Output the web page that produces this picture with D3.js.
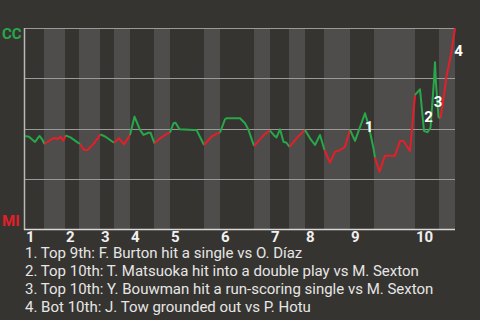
<!DOCTYPE html>
<html>
<head>
<meta charset="utf-8">
<script src="https://cdn.jsdelivr.net/npm/d3@7"></script>
<style>
  body { margin: 0; background: #363430; }
  svg { display: block; font-family: Roboto, "Noto Sans", sans-serif; }
</style>
</head>
<body>
<div id="chart"></div>
<script>
// teams: away on top, home at the bottom
var awayTeam = "CC";
var homeTeam = "MI";

// start of every half inning (play units), top 1st .. bottom 10th, then game end
var halfStarts = [0, 3.8, 8, 10.8, 15, 17.8, 21, 25.8, 29, 35.8, 39, 45.8, 49, 52.8, 56, 59.8, 65, 69.8, 78, 82.8];
var gameEnd = 86;
var inningLabels = ["1", "2", "3", "4", "5", "6", "7", "8", "9", "10"];

// win probability for CC (%) through the game
var playPos = [0, 0.8, 2, 2.9, 3.5, 3.9, 4.8, 5.8, 6.5, 7.1, 7.7, 8.1, 9.1, 10.5, 11, 11.8, 12.5, 13.8, 15.1, 16.1,
    17.8, 18.8, 19.8, 21, 21.9, 23, 23.7, 24.7, 25.1, 25.9, 27, 28.3, 29, 29.7, 30.1, 30.9, 33.7, 34.3, 35.8, 37.3,
    38.3, 39, 40, 40.3, 43, 44, 44.7, 45.8, 47, 48, 49, 49.9, 50.3, 51, 51.7, 52.3, 52.9, 54.3, 56, 57,
    58, 59, 59.9, 61, 62, 62.8, 64, 65, 66, 68, 68.7, 69.7, 70, 70.9, 72, 74, 75, 75.7, 77, 78,
    79, 79.8, 80.5, 81.1, 81.8, 82, 82.2, 82.7, 83.1, 83.7, 84.3, 85.3, 86];
var winProb = [46.3, 45.9, 43.3, 46.3, 44.3, 42.3, 43.8, 45.3, 44.8, 45.8, 43.9, 46.6, 45.6, 43.1, 42.3, 39.3, 39.3, 42.6, 47.1, 45.9,
    42.9, 45.1, 42.1, 46.8, 55.9, 49.3, 46.8, 47.9, 47.9, 42.6, 45.1, 47.3, 47.9, 52.6, 52.9, 49.6, 49.3, 49.3, 41.8, 45.9,
    47.3, 47.9, 54.6, 55.1, 55.1, 52.6, 49.3, 41.3, 44.6, 47.3, 48.9, 46.3, 45.6, 49.6, 43.4, 42.9, 40.9, 45.1, 49.3, 45.1,
    41.8, 46.8, 39.3, 33.0, 38.5, 39.0, 40.9, 49.3, 43.8, 57.6, 51.7, 40.1, 35.5, 28.5, 36.5, 36.5, 43.8, 43.8, 38.8, 66.7,
    69.5, 48.8, 48.1, 50.4, 74.1, 82.9, 72.5, 55.7, 55.2, 65.0, 75.8, 88.2, 100];

// key plays
var noteLabels = ["1", "2", "3", "4"];
var notePos = [68.8, 80.7, 82.6, 86.7];
var noteProb = [50.7, 55.9, 63.2, 88.6];
var noteTexts = [
    "1. Top 9th: F. Burton hit a single vs O. D\u00edaz",
    "2. Top 10th: T. Matsuoka hit into a double play vs M. Sexton",
    "3. Top 10th: Y. Bouwman hit a run-scoring single vs M. Sexton",
    "4. Bot 10th: J. Tow grounded out vs P. Hotu"
];

var width = 480, height = 320;
var margin = {top: 28, right: 25, bottom: 91, left: 25};
var green = "#27a84a", red = "#e61e2a";

var svg = d3.select("#chart").append("svg")
    .attr("width", width)
    .attr("height", height);

var x = d3.scaleLinear().domain([0, gameEnd]).range([margin.left, width - margin.right]);
var y = d3.scaleLinear().domain([0, 100]).range([height - margin.bottom, margin.top]);

// half inning bands, bottom halves lighter
var halves = halfStarts.map(function (s, i) {
    return {start: s, end: i + 1 < halfStarts.length ? halfStarts[i + 1] : gameEnd, top: i % 2 === 0, inning: Math.floor(i / 2)};
});

svg.selectAll("rect.band")
    .data(halves.filter(function (d) { return !d.top; }))
    .enter()
    .append("rect")
    .attr("class", "band")
    .attr("x", function (d) { return x(d.start); })
    .attr("y", y(100))
    .attr("width", function (d) { return x(d.end) - x(d.start); })
    .attr("height", y(0) - y(100))
    .attr("fill", "#4e4d4b");

// grid lines at the quarters
svg.selectAll("line.grid")
    .data([25, 50, 75, 100])
    .enter()
    .append("line")
    .attr("class", "grid")
    .attr("x1", x(0))
    .attr("x2", x(gameEnd))
    .attr("y1", function (d) { return Math.round(y(d)) + 0.5; })
    .attr("y2", function (d) { return Math.round(y(d)) + 0.5; })
    .attr("stroke", "#9a9a98")
    .attr("stroke-width", 1);

// axes
svg.append("line")
    .attr("x1", x(0) - 0.5).attr("x2", x(0) - 0.5)
    .attr("y1", y(100)).attr("y2", y(0) + 1)
    .attr("stroke", "#b8b8b6").attr("stroke-width", 1.5);
svg.append("line")
    .attr("x1", x(0) - 1).attr("x2", x(gameEnd))
    .attr("y1", y(0) + 0.5).attr("y2", y(0) + 0.5)
    .attr("stroke", "#d8d8d6").attr("stroke-width", 1.5);

// win probability line, split where the batting team changes
var points = playPos.map(function (p, i) { return {pos: p, wp: winProb[i]}; });
function halfOf(p) {
    var h = 0;
    halfStarts.forEach(function (s, i) { if (p >= s) h = i; });
    return h;
}
var segments = [];
for (var i = 0; i < points.length - 1; i++) {
    var h = halfOf(points[i].pos);
    var last = segments[segments.length - 1];
    if (last && last.half === h) {
        last.pts.push(points[i + 1]);
    } else {
        segments.push({half: h, pts: [points[i], points[i + 1]]});
    }
}
var line = d3.line()
    .x(function (d) { return x(d.pos); })
    .y(function (d) { return y(d.wp); });

svg.selectAll("path.wp")
    .data(segments)
    .enter()
    .append("path")
    .attr("class", "wp")
    .attr("d", function (d) { return line(d.pts); })
    .attr("fill", "none")
    .attr("stroke", function (d) { return d.half % 2 === 0 ? green : red; })
    .attr("stroke-width", 2)
    .attr("stroke-linejoin", "round");

// team labels
svg.append("text")
    .attr("x", 2).attr("y", y(100) + 11)
    .attr("fill", green)
    .attr("font-size", 15).attr("font-weight", "bold")
    .text(awayTeam);
svg.append("text")
    .attr("x", 2).attr("y", y(0) - 3)
    .attr("fill", red)
    .attr("font-size", 15).attr("font-weight", "bold")
    .text(homeTeam);

// inning numbers
svg.selectAll("text.inning")
    .data(halves.filter(function (d) { return d.top; }))
    .enter()
    .append("text")
    .attr("class", "inning")
    .attr("x", function (d) { return x(d.start) + 1; })
    .attr("y", y(0) + 13)
    .attr("fill", "#f0f0f0")
    .attr("font-size", 15).attr("font-weight", "bold")
    .text(function (d) { return inningLabels[d.inning]; });

// key play markers
svg.selectAll("text.note")
    .data(noteLabels)
    .enter()
    .append("text")
    .attr("class", "note")
    .attr("x", function (d, i) { return x(notePos[i]); })
    .attr("y", function (d, i) { return y(noteProb[i]); })
    .attr("dy", "0.36em")
    .attr("text-anchor", "middle")
    .attr("fill", "#ffffff")
    .attr("font-size", 15).attr("font-weight", "bold")
    .text(function (d) { return d; });

// key play descriptions
svg.selectAll("text.desc")
    .data(noteTexts)
    .enter()
    .append("text")
    .attr("class", "desc")
    .attr("x", 25)
    .attr("y", function (d, i) { return 258 + i * 18; })
    .attr("fill", "#e6e6e6")
    .attr("font-size", 15)
    .text(function (d) { return d; });
</script>
</body>
</html>
